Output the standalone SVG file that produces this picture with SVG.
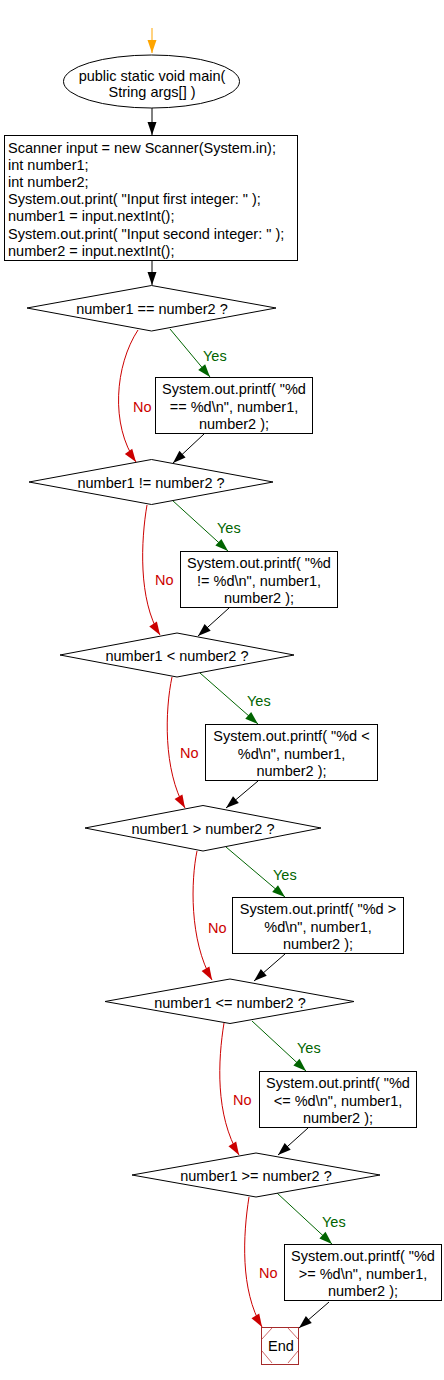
<svg xmlns="http://www.w3.org/2000/svg" width="444" height="1380" viewBox="0 0 444 1380">
<style>
text{font-family:"Liberation Sans",Arial,sans-serif;font-size:14.5px;fill:#000}
.c{text-anchor:middle}
.shape{fill:#fff;stroke:#000;stroke-width:1}
.blk{fill:none;stroke:#000;stroke-width:1;marker-end:url(#ab)}
.yes{fill:none;stroke:#006400;stroke-width:1;marker-end:url(#ag)}
.no{fill:none;stroke:#cc0000;stroke-width:1;marker-end:url(#ar)}
.ylab{fill:#006400}
.nlab{fill:#cc0000}
</style>
<defs>
<marker id="ab" markerUnits="userSpaceOnUse" markerWidth="16" markerHeight="12" viewBox="-14 -6 16 12" refX="0" refY="0" orient="auto"><path d="M0,0 L-13,-4.5 L-13,4.5 Z" fill="#000"/></marker>
<marker id="ag" markerUnits="userSpaceOnUse" markerWidth="16" markerHeight="12" viewBox="-14 -6 16 12" refX="0" refY="0" orient="auto"><path d="M0,0 L-13,-4.5 L-13,4.5 Z" fill="#006400"/></marker>
<marker id="ar" markerUnits="userSpaceOnUse" markerWidth="16" markerHeight="12" viewBox="-14 -6 16 12" refX="0" refY="0" orient="auto"><path d="M0,0 L-13,-4.5 L-13,4.5 Z" fill="#cc0000"/></marker>
<marker id="ao" markerUnits="userSpaceOnUse" markerWidth="16" markerHeight="12" viewBox="-14 -6 16 12" refX="0" refY="0" orient="auto"><path d="M0,0 L-13,-4.5 L-13,4.5 Z" fill="#ffa500"/></marker>
</defs>

<g id="connectors">
<path d="M152,28 L152,53" fill="none" stroke="#ffa500" stroke-width="1" marker-end="url(#ao)"/>
<path class="blk" d="M152,108 L152,135"/>
<path class="blk" d="M152,261 L152,285"/>
<path class="yes" d="M170,329 L210,377"/>
<path class="no" d="M138,330 C115,365 110,425 136,462"/>
<path class="blk" d="M204,434 L173,463"/>
<path class="yes" d="M172,500 L228,551"/>
<path class="no" d="M147,505 C141,540 138,600 160,635"/>
<path class="blk" d="M229,608 L198,636"/>
<path class="yes" d="M200,673 L258,724"/>
<path class="no" d="M172,677 C165,710 163,770 185,808"/>
<path class="blk" d="M258,781 L226,808"/>
<path class="yes" d="M226,847 L285,897"/>
<path class="no" d="M197,851 C191,880 189,940 212,980"/>
<path class="blk" d="M285,954 L254,981"/>
<path class="yes" d="M252,1021 L306,1071"/>
<path class="no" d="M224,1023 C218,1060 215,1115 239,1155"/>
<path class="blk" d="M308,1128 L278,1155"/>
<path class="yes" d="M277,1193 L332,1244"/>
<path class="no" d="M249,1197 C243,1235 240,1290 262,1327"/>
<path class="blk" d="M329,1302 L299,1328"/>
<text class="ylab" x="203" y="360.5">Yes</text>
<text class="nlab" x="133" y="411.5">No</text>
<text class="ylab" x="217" y="533">Yes</text>
<text class="nlab" x="155" y="585">No</text>
<text class="ylab" x="247" y="706">Yes</text>
<text class="nlab" x="180" y="758">No</text>
<text class="ylab" x="273" y="880">Yes</text>
<text class="nlab" x="208" y="932.5">No</text>
<text class="ylab" x="297" y="1053">Yes</text>
<text class="nlab" x="233" y="1105">No</text>
<text class="ylab" x="322" y="1226.5">Yes</text>
<text class="nlab" x="259" y="1278">No</text>
</g>

<g id="start">
<ellipse class="shape" cx="151.5" cy="81.5" rx="88" ry="26.5"/>
<text class="c" x="152" y="81">public static void main(</text>
<text class="c" x="152" y="97">String args[] )</text>
</g>

<g id="init">
<rect class="shape" x="4.5" y="135.5" width="293" height="125"/>
<text x="8" y="152.5">Scanner input = new Scanner(System.in);</text>
<text x="8" y="169.7">int number1;</text>
<text x="8" y="186.9">int number2;</text>
<text x="8" y="204.1">System.out.print( "Input first integer: " );</text>
<text x="8" y="221.3">number1 = input.nextInt();</text>
<text x="8" y="238.5">System.out.print( "Input second integer: " );</text>
<text x="8" y="255.7">number2 = input.nextInt();</text>
</g>

<g id="d1">
<polygon class="shape" points="27,308 151.5,285.5 276,308 151.5,331"/>
<text class="c" x="152" y="314">number1 == number2 ?</text>
</g>
<g id="p1">
<rect class="shape" x="155.5" y="377.5" width="157" height="56"/>
<text class="c" x="234" y="394">System.out.printf( "%d</text>
<text class="c" x="234" y="411.5">== %d\n", number1,</text>
<text class="c" x="234" y="429">number2 );</text>
</g>

<g id="d2">
<polygon class="shape" points="29,482 151.5,459.5 273,482 151.5,504.5"/>
<text class="c" x="151" y="488">number1 != number2 ?</text>
</g>
<g id="p2">
<rect class="shape" x="180.5" y="551.5" width="157" height="56"/>
<text class="c" x="259" y="568">System.out.printf( "%d</text>
<text class="c" x="259" y="585.5">!= %d\n", number1,</text>
<text class="c" x="259" y="603">number2 );</text>
</g>

<g id="d3">
<polygon class="shape" points="60,655 177,633 294,655 177,677"/>
<text class="c" x="177" y="661">number1 &lt; number2 ?</text>
</g>
<g id="p3">
<rect class="shape" x="205.5" y="724.5" width="172" height="56"/>
<text class="c" x="291.5" y="741">System.out.printf( "%d &lt;</text>
<text class="c" x="291.5" y="758.5">%d\n", number1,</text>
<text class="c" x="291.5" y="776">number2 );</text>
</g>

<g id="d4">
<polygon class="shape" points="85,828 203,805.5 321,828 203,851"/>
<text class="c" x="203" y="834">number1 &gt; number2 ?</text>
</g>
<g id="p4">
<rect class="shape" x="232.5" y="897.5" width="171" height="56"/>
<text class="c" x="318" y="914">System.out.printf( "%d &gt;</text>
<text class="c" x="318" y="931.5">%d\n", number1,</text>
<text class="c" x="318" y="949">number2 );</text>
</g>

<g id="d5">
<polygon class="shape" points="105,1001.5 230,979 354,1001.5 230,1023.5"/>
<text class="c" x="230" y="1007.5">number1 &lt;= number2 ?</text>
</g>
<g id="p5">
<rect class="shape" x="259.5" y="1071.5" width="157" height="56"/>
<text class="c" x="338" y="1088">System.out.printf( "%d</text>
<text class="c" x="338" y="1105.5">&lt;= %d\n", number1,</text>
<text class="c" x="338" y="1123">number2 );</text>
</g>

<g id="d6">
<polygon class="shape" points="132,1175 256,1153 380,1175 256,1197"/>
<text class="c" x="256" y="1181">number1 &gt;= number2 ?</text>
</g>
<g id="p6">
<rect class="shape" x="284.5" y="1244.5" width="157" height="56"/>
<text class="c" x="363" y="1261">System.out.printf( "%d</text>
<text class="c" x="363" y="1278.5">&gt;= %d\n", number1,</text>
<text class="c" x="363" y="1296">number2 );</text>
</g>

<g id="end">
<rect x="261.5" y="1327.5" width="37" height="37" fill="#fff" stroke="#a52a2a" stroke-width="1"/>
<path d="M272,1328 L262,1339 M262,1351 L272,1363 M288,1363 L298,1351 M298,1339 L288,1328" fill="none" stroke="#c04040" stroke-width="0.8"/>
<text class="c" x="281" y="1351">End</text>
</g>
</svg>
